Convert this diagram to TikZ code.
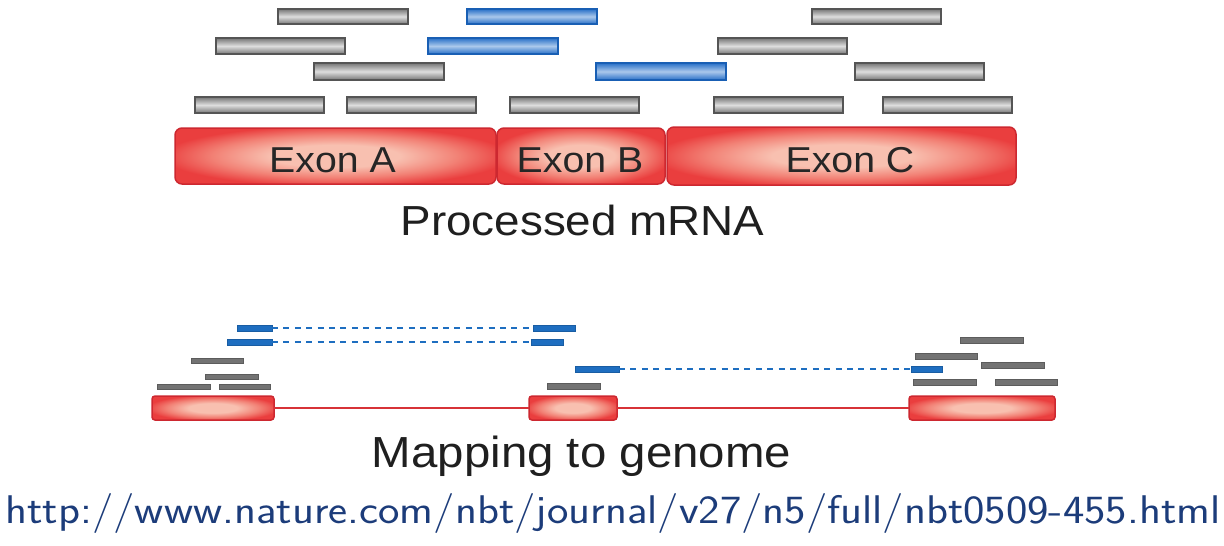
\documentclass[tikz,border=0pt]{standalone}
\usepackage{fontspec}
\usepackage{graphicx}
\newfontfamily\hv[FakeStretch=1.09]{Liberation Sans}
\definecolor{rgline}{RGB}{85,85,85}
\definecolor{rgdark}{RGB}{118,118,118}
\definecolor{rglight}{RGB}{222,222,222}
\definecolor{rbline}{RGB}{25,95,180}
\definecolor{rbdark}{RGB}{40,112,200}
\definecolor{rblight}{RGB}{170,200,235}
\definecolor{exline}{RGB}{205,40,48}
\definecolor{exouter}{RGB}{234,62,62}
\definecolor{exmid}{RGB}{242,130,118}
\definecolor{exinner}{RGB}{248,192,176}
\definecolor{ggray}{RGB}{115,115,115}
\definecolor{gblue}{RGB}{30,110,192}
\definecolor{intron}{RGB}{215,50,55}
\definecolor{urlblue}{RGB}{28,60,122}
\pgfdeclareradialshading{exshade}{\pgfpoint{0bp}{0bp}}{color(0bp)=(exinner); color(10bp)=(exinner); color(19bp)=(exmid); color(27bp)=(exouter); color(50bp)=(exouter)}
\tikzset{
  box/.style={inner sep=0pt, outer sep=0pt},
  gread/.style={box, draw=rgline, line width=1.4pt, top color=rgdark, bottom color=rgdark, middle color=rglight},
  bread/.style={box, draw=rbline, line width=1.4pt, top color=rbdark, bottom color=rbdark, middle color=rblight},
  exon/.style={box, draw=exline, line width=1.5pt, rounded corners=7pt, shading=exshade},
  gexon/.style={box, draw=exline, line width=1.5pt, rounded corners=3pt, shading=exshade},
  sgray/.style={box, fill=ggray, draw=ggray!80!black, line width=0.5pt},
  sblue/.style={box, fill=gblue, draw=gblue!85!black, line width=0.5pt},
  dashb/.style={draw=gblue, line width=2pt, dash pattern=on 6pt off 5.4pt},
  intronline/.style={draw=intron, line width=2pt},
  exlabel/.style={anchor=base, font=\hv\fontsize{36}{42}\selectfont, text=black!85},
  biglabel/.style={anchor=base, font=\hv\fontsize{42}{50}\selectfont, text=black!88},
  urllabel/.style={anchor=base, font=\sffamily\fontsize{40}{48}\selectfont, text=urlblue},
}
\newcommand\rdbox[6]{\node[#1, minimum width={#4-#2}, minimum height={#5-#3}] (#6) at ({(#2+#4)/2},{(#3+#5)/2}) {};}
\begin{document}
\begin{tikzpicture}[x=1pt,y=-1pt]
\useasboundingbox (0,0) rectangle (1224,546);
% top reads
\rdbox{gread}{278}{9}{408}{24}{t1}
\rdbox{bread}{467}{9}{597}{24}{t2}
\rdbox{gread}{812}{9}{941}{24}{t3}
\rdbox{gread}{216}{38}{345}{54}{t4}
\rdbox{bread}{428}{38}{558}{54}{t5}
\rdbox{gread}{718}{38}{847}{54}{t6}
\rdbox{gread}{314}{63}{444}{80}{t7}
\rdbox{bread}{596}{63}{726}{80}{t8}
\rdbox{gread}{855}{63}{984}{80}{t9}
\rdbox{gread}{195}{97}{324}{113}{t10}
\rdbox{gread}{347}{97}{476}{113}{t11}
\rdbox{gread}{510}{97}{639}{113}{t12}
\rdbox{gread}{714}{97}{843}{113}{t13}
\rdbox{gread}{883}{97}{1012}{113}{t14}
% exons
\rdbox{exon}{175}{128}{496}{184}{exA}
\rdbox{exon}{497}{128}{665}{184}{exB}
\rdbox{exon}{667}{127}{1016}{185}{exC}
\node[exlabel] (lA) at (332.5,172) {Exon A};
\node[exlabel] (lB) at (580,172) {Exon B};
\node[exlabel] (lC) at (850,172) {Exon C};
\node[biglabel] (pm) at (582.5,235) {Processed mRNA};
% genome
\rdbox{gexon}{152}{396}{274}{420}{g1}
\rdbox{gexon}{529}{396}{617}{420}{g2}
\rdbox{gexon}{909}{396}{1055}{420}{g3}
\draw[intronline] (g1.east) -- (g2.west);
\draw[intronline] (g2.east) -- (g3.west);
% spliced reads
\rdbox{sblue}{237}{325}{272}{331}{b1l}
\rdbox{sblue}{533}{325}{575}{331}{b1r}
\rdbox{sblue}{227}{339}{272}{345}{b2l}
\rdbox{sblue}{531}{339}{563}{345}{b2r}
\rdbox{sblue}{575}{366}{619}{372}{b3l}
\rdbox{sblue}{911}{366}{942}{372}{b3r}
\draw[dashb] (b1l.east) -- (b1r.west);
\draw[dashb] (b2l.east) -- (b2r.west);
\draw[dashb] (b3l.east) -- (b3r.west);
% unspliced reads
\rdbox{sgray}{191}{358}{243}{363}{s1}
\rdbox{sgray}{205}{374}{258}{379}{s2}
\rdbox{sgray}{157}{384}{210}{389}{s3}
\rdbox{sgray}{219}{384}{270}{389}{s4}
\rdbox{sgray}{547}{383}{600}{389}{s5}
\rdbox{sgray}{960}{337}{1023}{343}{s6}
\rdbox{sgray}{915}{353}{977}{359}{s7}
\rdbox{sgray}{981}{362}{1044}{368}{s8}
\rdbox{sgray}{913}{379}{976}{385}{s9}
\rdbox{sgray}{995}{379}{1057}{385}{s10}
\node[biglabel, font=\hv\fontsize{43.5}{50}\selectfont] (mg) at (581.5,467) {Mapping to genome};
\node[urllabel] (url) at (613,523) {\scalebox{1.136}[1]{http://www.nature.com/nbt/journal/v27/n5/full/nbt0509-455.html}};
\end{tikzpicture}
\end{document}
